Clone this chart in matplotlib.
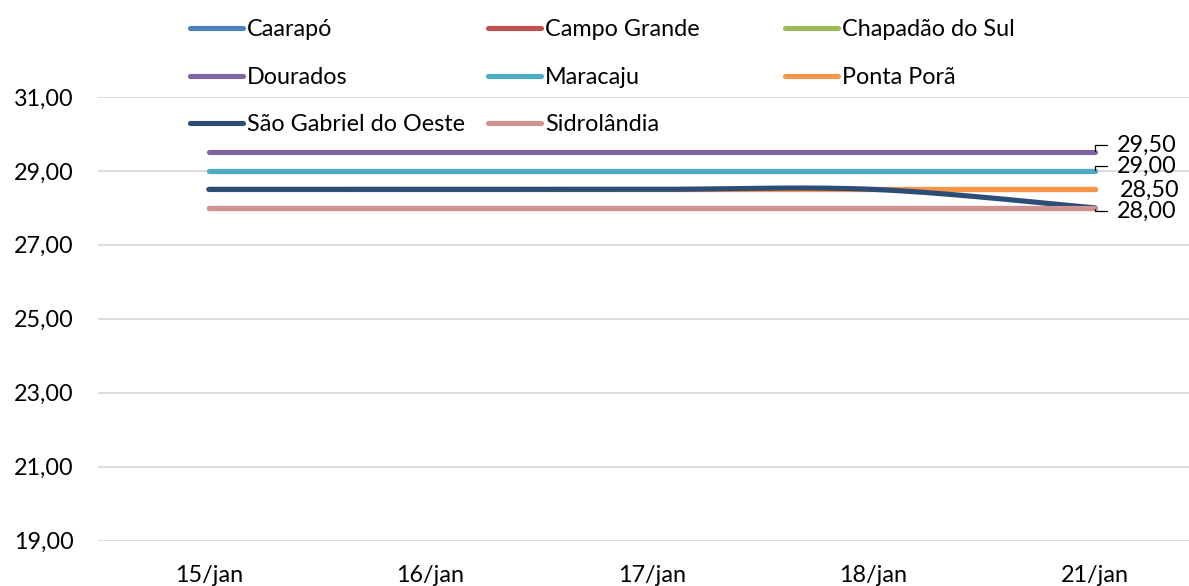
import numpy as np
import matplotlib
matplotlib.use("Agg")
import matplotlib.pyplot as plt
from matplotlib.lines import Line2D

plt.rcParams['font.family'] = ['Lato', 'DejaVu Sans']

# Preço por município (R$/sc)
dates = ["15/jan", "16/jan", "17/jan", "18/jan", "21/jan"]
caarapo = [28.00, 28.00, 28.00, 28.00, 28.00]
campo_grande = [28.50, 28.50, 28.50, 28.50, 28.50]
chapadao = [29.00, 29.00, 29.00, 29.00, 29.00]
dourados = [29.50, 29.50, 29.50, 29.50, 29.50]
maracaju = [29.00, 29.00, 29.00, 29.00, 29.00]
ponta_pora = [28.50, 28.50, 28.50, 28.50, 28.50]
sao_gabriel = [28.50, 28.50, 28.50, 28.50, 28.00]
sidrolandia = [28.00, 28.00, 28.00, 28.00, 28.00]

series = [
    ("Caarapó", caarapo, "#4F81BD"),
    ("Campo Grande", campo_grande, "#C0504D"),
    ("Chapadão do Sul", chapadao, "#9BBB59"),
    ("Dourados", dourados, "#8064A2"),
    ("Maracaju", maracaju, "#4BACC6"),
    ("Ponta Porã", ponta_pora, "#F79646"),
    ("São Gabriel do Oeste", sao_gabriel, "#2C4D75"),
    ("Sidrolândia", sidrolandia, "#D19392"),
]

FS = 16.8
LW = 3.7


def smooth(xs, ys, n=40):
    """Smoothed line through the points (cubic Bezier, Catmull-Rom tangents)."""
    pts = np.column_stack([xs, ys]).astype(float)
    out = [pts[0]]
    for i in range(len(pts) - 1):
        p0 = pts[i - 1] if i > 0 else pts[i]
        p1, p2 = pts[i], pts[i + 1]
        p3 = pts[i + 2] if i + 2 < len(pts) else pts[i + 1]
        c1 = p1 + (p2 - p0) / 6
        c2 = p2 - (p3 - p1) / 6
        t = np.linspace(0, 1, n)[1:, None]
        seg = ((1 - t) ** 3) * p1 + 3 * ((1 - t) ** 2) * t * c1 \
            + 3 * (1 - t) * t ** 2 * c2 + t ** 3 * p2
        out.extend(seg)
    out = np.array(out)
    return out[:, 0], out[:, 1]


W, H = 1189, 586
fig = plt.figure(figsize=(W / 100, H / 100), dpi=100)
# plot area runs a little past the right edge of the image
ax = fig.add_axes([98 / W, 45.5 / H, 1108 / W, 443.5 / H])

x = np.arange(len(dates))
for name, vals, color in series:
    sx, sy = smooth(x, vals)
    ax.plot(sx, sy, color=color, lw=LW, solid_capstyle='round', label=name)

ax.set_xlim(-0.5, 4.5)
ax.set_ylim(19, 31)
yt = np.arange(19, 32, 2)
ax.set_yticks(yt)
ax.set_yticklabels([f"{v:.2f}".replace('.', ',') for v in yt])
ax.set_xticks(x)
ax.set_xticklabels(dates)
ax.tick_params(axis='both', length=0, labelsize=FS)
ax.tick_params(axis='y', pad=17.5)
ax.tick_params(axis='x', pad=18)
ax.grid(axis='y', color='#D9D9D9', lw=1.3)
ax.set_axisbelow(True)
for s in ax.spines.values():
    s.set_visible(False)

# Value labels at the last date (offset in px, leader line or not)
label_series = [(dourados, -7, True), (maracaju, -5, True),
                (ponta_pora, 0.5, False), (sidrolandia, 3, True)]
for vals, dy, leader in label_series:
    v = vals[-1]
    ap = None
    if leader:
        ap = dict(arrowstyle='-', color='black', lw=0.9, shrinkA=5, shrinkB=1,
                  connectionstyle='angle,angleA=0,angleB=90,rad=0')
    dx = 22 if leader else 25
    ax.annotate(f"{v:.2f}".replace('.', ','), xy=(x[-1], v),
                xytext=(dx * 0.72, -dy * 0.72), textcoords='offset points',
                ha='left', va='center', fontsize=FS, arrowprops=ap,
                annotation_clip=False)

# Legend laid out in three columns
handles = {name: Line2D([], [], color=c, lw=LW, solid_capstyle='round')
           for name, _, c in series}
columns = [
    (["Caarapó", "Dourados", "São Gabriel do Oeste"], 190),
    (["Campo Grande", "Maracaju", "Sidrolândia"], 488),
    (["Chapadão do Sul", "Ponta Porã"], 785),
]
fs_px = FS * 100 / 72
for names, x0 in columns:
    fig.legend([handles[n] for n in names], names, loc='upper left',
               bbox_to_anchor=(x0 / W, 1 - 19.5 / H), frameon=False,
               fontsize=FS, borderpad=0, borderaxespad=0,
               handlelength=53 / fs_px, handletextpad=4 / fs_px,
               labelspacing=1.135)

fig.savefig("out.png", dpi=100)
